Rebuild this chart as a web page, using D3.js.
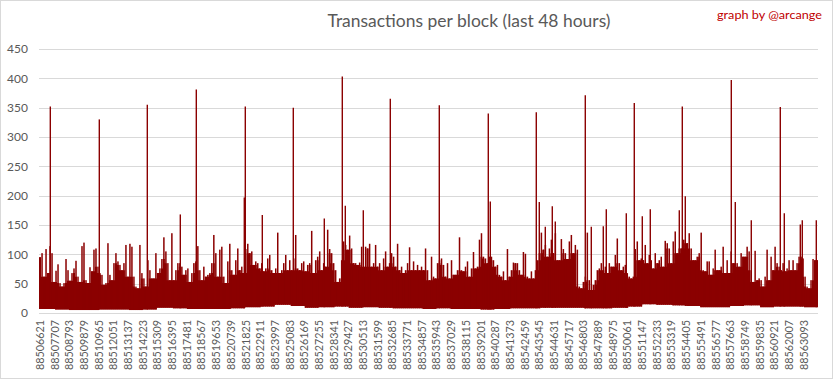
<!DOCTYPE html>
<html><head><meta charset="utf-8">
<script src="https://cdn.jsdelivr.net/npm/d3@7"></script>
<style>body{margin:0;background:#fff}svg text{font-family:Lato,"Open Sans",sans-serif}</style>
</head><body><svg id="c" width="833" height="379"></svg>
<script>
// ---- data ----
const firstBlock = 88506621;
const blockCount = 57600;
const tickStep = 1086;
const tickLabels = ["88506621","88507707","88508793","88509879","88510965","88512051","88513137","88514223","88515309","88516395","88517481","88518567","88519653","88520739","88521825","88522911","88523997","88525083","88526169","88527255","88528341","88529427","88530513","88531599","88532685","88533771","88534857","88535943","88537029","88538115","88539201","88540287","88541373","88542459","88543545","88544631","88545717","88546803","88547889","88548975","88550061","88551147","88552233","88553319","88554405","88555491","88556577","88557663","88558749","88559835","88560921","88562007","88563093"];
const yTicks = [0,50,100,150,200,250,300,350,400,450];
// upper envelope of transactions per block, one value per group of consecutive blocks
const binMax = [
95,102,62,109,68,114,102,53,72,83,51,45,51,92,73,55,68,76,89,62,
53,114,120,56,51,78,71,108,110,79,68,65,48,51,119,65,56,85,102,88,
82,73,85,116,62,118,113,62,45,42,116,68,59,45,90,73,59,59,102,68,
76,92,129,105,85,56,
136,56,73,85,85,79,65,73,76,53,68,85,88,114,73,56,79,62,65,68,
85,133,102,62,108,113,62,51,88,118,73,65,90,110,73,79,68,109,118,102,
105,82,88,85,76,85,71,76,93,99,73,68,76,137,68,73,85,99,73,90,
73,93,133,76,73,
85,88,71,82,85,140,68,90,96,105,73,85,79,142,109,102,85,73,53,59,
90,122,116,108,132,110,85,85,82,86,113,79,113,110,118,79,85,116,79,85,
73,93,105,79,85,102,96,79,118,73,79,68,73,85,112,73,88,73,82,73,
79,73,110,73,56,
96,62,59,85,90,93,82,62,85,59,90,65,65,73,129,73,71,79,88,62,
76,104,76,79,125,136,96,93,85,96,96,90,79,82,65,62,71,56,109,62,
73,86,85,85,73,65,104,101,62,59,71,59,73,90,102,137,108,116,96,110,
125,102,136,90,90,
126,109,102,92,122,133,102,116,108,45,42,53,62,137,56,39,48,56,73,76,
85,73,79,68,85,79,79,99,127,85,73,79,82,68,62,59,62,109,122,90,
93,90,116,85,99,90,76,102,85,90,96,79,123,119,110,85,122,139,102,110,
110,125,125,119,136,
110,90,90,96,102,137,73,71,88,88,65,76,108,73,73,79,113,68,90,68,
105,85,85,85,79,102,96,96,113,105,73,53,106,56,59,56,45,62,108,56,
96,73,113,85,79,73,85,71,76,90,73,90,73,85,96,96,93,62,45,42,
56,92,90,90];
// lower envelope, one value per labelled interval
const floorValues = [7,6,5,5,6,6,5,6,9,8,7,7,7,8,10,11,14,12,9,10,11,9,10,9,8,8,7,8,7,7,6,7,8,8,9,9,9,8,8,9,11,15,14,13,12,10,10,12,13,10,11,11,10];
// isolated tall blocks
const spikeBlocks = [88507457,88511080,88514629,88517069,88518252,88521801,88521875,88523132,88525424,88527716,88529047,88529269,88530600,88532596,88536219,88539842,88539990,88543391,88543613,88544057,88544574,88544796,88547014,88547458,88548345,88548567,88550046,88550637,88551229,88551820,88553965,88554187,88554408,88557810,88558105,88559288,88561433,88561729,88562912,88563059,88564095];
const spikeValues = [352,330,355,168,381,197,352,167,350,161,403,183,175,365,354,340,190,342,189,147,182,156,371,147,148,177,170,358,165,177,175,352,199,397,189,158,351,170,151,158,158];

// ---- chart ----
const svg = d3.select("#c");
const red = "#8b0000";
svg.append("rect").attr("x",0.5).attr("y",0.5).attr("width",832).attr("height",378)
  .attr("fill","#fff").attr("stroke","#d9d9d9");

const x = d3.scaleLinear().domain([firstBlock, firstBlock + blockCount]).range([39, 818]);
const y = d3.scaleLinear().domain([0, 450]).range([313, 49]);

svg.append("g").selectAll("line").data(yTicks).join("line")
  .attr("x1",39).attr("x2",818).attr("y1",d=>Math.round(y(d))+0.5).attr("y2",d=>Math.round(y(d))+0.5)
  .attr("stroke","#d9d9d9").attr("stroke-width",1);

svg.append("g").selectAll("text").data(yTicks).join("text")
  .attr("x",28).attr("y",d=>y(d)).attr("dy","0.35em").attr("text-anchor","end")
  .attr("font-size","12px").attr("fill","#595959").text(d=>d);

const bw = blockCount / binMax.length;
const floorOf = b => floorValues[Math.min(floorValues.length-1, Math.floor((b - firstBlock)/tickStep))];
const n = binMax.length;
// solid core: lowest of each group and its neighbours; thin columns rise to each group's max
const pts = binMax.map((v,k)=>({
  b: firstBlock + k*bw,
  core: Math.min(v, binMax[Math.max(0,k-1)], binMax[Math.min(n-1,k+1)]),
  bot: floorOf(firstBlock + k*bw)
}));
pts.push({b: firstBlock + blockCount, core: pts[n-1].core, bot: pts[n-1].bot});

const area = d3.area().curve(d3.curveStepAfter)
  .x(d=>x(d.b)).y0(d=>y(d.bot)).y1(d=>y(d.core));
svg.append("path").datum(pts).attr("d",area).attr("fill",red);

const colW = x(firstBlock + bw) - x(firstBlock);
svg.append("g").selectAll("rect").data(binMax).join("rect")
  .attr("x",(d,k)=>x(firstBlock + k*bw) + colW*0.15)
  .attr("width",colW*0.75)
  .attr("y",d=>y(d))
  .attr("height",(d,k)=>y(floorOf(firstBlock + k*bw)) - y(d))
  .attr("fill",red);

svg.append("g").selectAll("line").data(spikeBlocks).join("line")
  .attr("x1",d=>x(d)).attr("x2",d=>x(d))
  .attr("y1",d=>y(floorOf(d))).attr("y2",(d,i)=>y(spikeValues[i]))
  .attr("stroke",red).attr("stroke-width",1.4);

const xl = svg.append("g");
tickLabels.forEach((t,i)=>{
  const px = x(firstBlock + i*tickStep) + 0.7;
  xl.append("text").attr("transform",`translate(${px},320) rotate(-90)`)
    .attr("dy","0.35em").attr("text-anchor","end").attr("font-size","12px")
    .attr("fill","#595959").attr("textLength",50).attr("lengthAdjust","spacingAndGlyphs").text(t);
});

svg.append("text").attr("x",469).attr("y",27).attr("text-anchor","middle")
  .attr("font-size","18px").attr("fill","#595959")
  .attr("textLength",283).attr("lengthAdjust","spacingAndGlyphs")
  .text("Transactions per block (last 48 hours)");
svg.append("text").attr("x",717).attr("y",19)
  .attr("font-size","12px").attr("fill","#c00000")
  .attr("textLength",105).attr("lengthAdjust","spacingAndGlyphs")
  .text("graph by @arcange");
</script></body></html>
